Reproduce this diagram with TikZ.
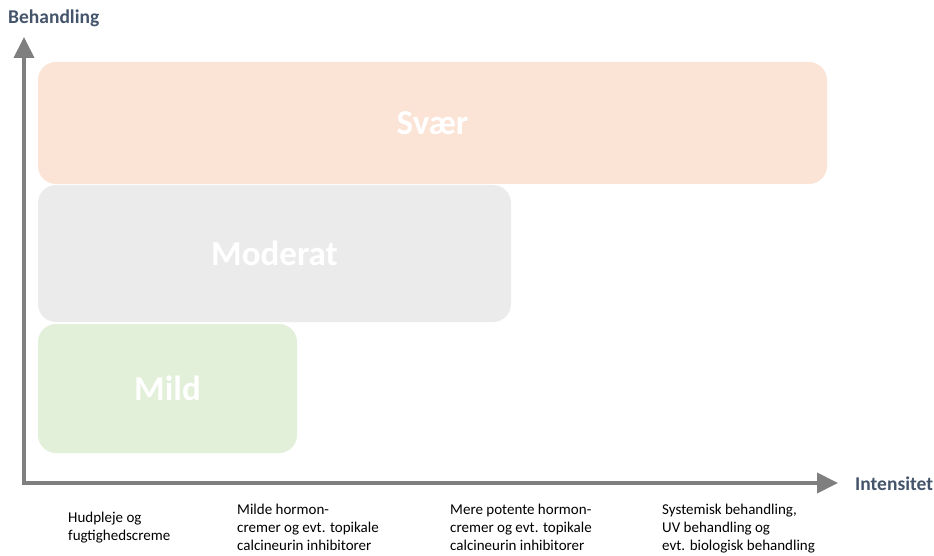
\documentclass[tikz,border=0pt]{standalone}
\usepackage{fontspec}
\setmainfont{Carlito}
\usetikzlibrary{arrows.meta}
\definecolor{axisgray}{HTML}{7F7F7F}
\definecolor{labelblue}{HTML}{44546A}
\definecolor{svaerfill}{HTML}{FBE3D6}
\definecolor{modfill}{HTML}{EBEBEB}
\definecolor{mildfill}{HTML}{E2EFD9}
\tikzset{
  axis/.style={draw=axisgray, line width=4pt, -{Triangle[length=21pt,width=20pt]}},
  levelbox/.style={rectangle, rounded corners=18pt, draw=none, text=white, font=\fontsize{35}{38}\selectfont\bfseries, inner sep=0pt},
  axislabel/.style={text=labelblue, font=\fontsize{19.5}{22}\selectfont\bfseries, inner sep=0pt},
  desc/.style={anchor=north west, align=left, inner sep=0pt, font=\fontsize{15}{18}\selectfont}
}
\begin{document}
\begin{tikzpicture}[x=1pt,y=-1pt]
\useasboundingbox (0,0) rectangle (934,556);
\node[levelbox, fill=svaerfill, minimum width=789pt, minimum height=122pt] (svaer) at (432.5,123) {\raisebox{-2pt}{Svær}};
\node[levelbox, fill=modfill, minimum width=473pt, minimum height=137pt] (moderat) at (274.5,253.5) {\raisebox{-2pt}{Moderat}};
\node[levelbox, fill=mildfill, minimum width=259pt, minimum height=129pt] (mild) at (167.5,388.5) {\raisebox{-1pt}{Mild}};
\coordinate (O) at (24,483);
\coordinate (ytop) at (24,37);
\coordinate (xend) at (838,483);
\draw[axis] ([xshift=0pt,yshift=2pt]O) -- (ytop);
\draw[axis] ([xshift=-2pt]O) -- (xend);
\node[axislabel, anchor=west] (ylab) at (8,18) {Behandling};
\node[axislabel, anchor=west] (xlab) at (855,484) {Intensitet};
\node[desc] (d1) at (68,512) {Hudpleje og\\fugtighedscreme};
\node[desc] (d2) at (237,504) {Milde hormon-\\cremer og evt. topikale\\calcineurin inhibitorer};
\node[desc] (d3) at (450,504) {Mere potente hormon-\\cremer og evt. topikale\\calcineurin inhibitorer};
\node[desc] (d4) at (662,504) {Systemisk behandling,\\UV behandling og\\evt. biologisk behandling};
\end{tikzpicture}
\end{document}
